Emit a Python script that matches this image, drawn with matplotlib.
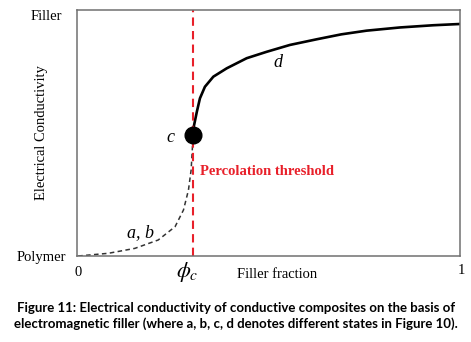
import numpy as np
import matplotlib.pyplot as plt

# percolation threshold (filler fraction)
phi_c = 0.303

# below threshold: states a, b (dashed)
x_ab = [0.003, 0.082, 0.151, 0.212, 0.256, 0.278, 0.291, 0.298, 0.301, 0.303]
y_ab = [0.000, 0.011, 0.031, 0.065, 0.119, 0.187, 0.268, 0.350, 0.431, 0.492]

# above threshold: state d (solid)
x_d = [0.303, 0.304, 0.313, 0.321, 0.334, 0.356, 0.391, 0.443, 0.495, 0.556,
       0.626, 0.690, 0.756, 0.843, 0.930, 0.998]
y_d = [0.492, 0.519, 0.587, 0.641, 0.688, 0.729, 0.763, 0.804, 0.830, 0.858,
       0.881, 0.901, 0.916, 0.929, 0.938, 0.943]

# state c marker
x_c, y_c = 0.303, 0.492

serif = 'Liberation Serif'

fig = plt.figure(figsize=(4.71, 3.42), dpi=100)
ax = fig.add_axes([77/471, 1-256/342, 383/471, 246/342])
ax.set_xlim(0, 1)
ax.set_ylim(0, 1)
for s in ax.spines.values():
    s.set_color('#707070')
    s.set_linewidth(1.1)
ax.set_xticks([])
ax.set_yticks([])

ax.plot(x_ab, y_ab, color='#333333', lw=1.1, ls=(0, (3, 2.2)), solid_joinstyle='round')
ax.plot(x_d, y_d, color='black', lw=1.9, solid_joinstyle='round')
ax.axvline(phi_c, color='#e8202a', lw=1.5, ls=(0, (4, 2.5)))
ax.plot([x_c], [y_c], 'o', color='black', ms=12, zorder=5)

ax.text(0.165, 0.095, 'a, b', fontsize=13, style='italic', family=serif, ha='center', va='center')
ax.text(0.245, 0.483, 'c', fontsize=13, style='italic', family=serif, ha='center', va='center')
ax.text(0.525, 0.785, 'd', fontsize=13, style='italic', family=serif, ha='center', va='center')
ax.text(0.32, 0.343, 'Percolation threshold', fontsize=10.5, weight='bold', color='#e8202a',
        family=serif, ha='left', va='center')

# axis end labels
fig.text(62/471, 1-16/342, 'Filler', fontsize=10.5, family=serif, ha='right', va='center')
fig.text(66/471, 1-257/342, 'Polymer', fontsize=10.5, family=serif, ha='right', va='center')
fig.text(78/471, 1-273/342, '0', fontsize=10.5, family=serif, ha='center', va='center')
fig.text(461/471, 1-271/342, '1', fontsize=10.5, family=serif, ha='center', va='center')
fig.text(187/471, 1-272/342, r'$\phi_c$', fontsize=16, ha='center', va='center',
         math_fontfamily='stix')
fig.text(277/471, 1-274/342, 'Filler fraction', fontsize=10.5, family=serif, ha='center', va='center')
fig.text(42/471, 1-133/342, 'Electrical Conductivity', fontsize=10.5, family=serif,
         rotation=90, ha='center', va='center')

caption = ('Figure 11: Electrical conductivity of conductive composites on the basis of\n'
           'electromagnetic filler (where a, b, c, d denotes different states in Figure 10).')
fig.text(236/471, 1-316/342, caption, fontsize=9.5, weight='bold', family='Lato',
         ha='center', va='center', linespacing=1.4)

fig.savefig('out.png', dpi=100)
